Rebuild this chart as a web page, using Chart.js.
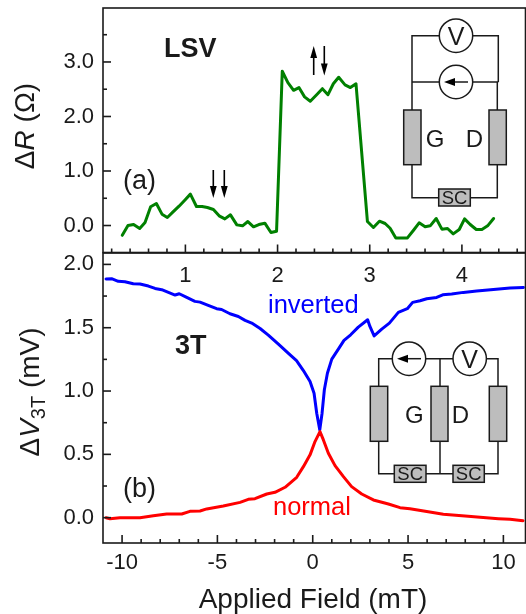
<!DOCTYPE html>
<html>
<head>
<meta charset="utf-8">
<style>
  html, body { margin: 0; padding: 0; background: #fff; }
  canvas { position: absolute; left: 0; top: 0; }
</style>
<script src="https://cdn.jsdelivr.net/npm/chart.js@4"></script>
</head>
<body>
<canvas id="bottom" width="526" height="614"></canvas>
<canvas id="top" width="526" height="614"></canvas>
<script>
const lsvField = [0.315,0.377,0.438,0.504,0.562,0.623,0.685,0.746,0.804,0.866,0.931,0.993,1.054,1.12,1.181,1.239,1.304,1.366,1.428,1.489,1.558,1.62,1.678,1.739,1.797,1.862,1.928,1.989,2.051,2.112,2.174,2.232,2.293,2.355,2.424,2.486,2.547,2.605,2.663,2.732,2.79,2.851,2.975,3.04,3.105,3.167,3.221,3.283,3.348,3.409,3.475,3.536,3.601,3.656,3.721,3.783,3.844,3.906,3.971,4.029,4.09,4.156,4.217,4.279,4.344];
const lsvR = [-0.18,0,0.02,-0.055,0.055,0.343,0.404,0.208,0.147,0.25,0.355,0.465,0.576,0.349,0.349,0.33,0.294,0.178,0.122,0.196,0.012,-0.006,0.073,-0.024,0.018,0.043,-0.129,-0.104,2.83,2.62,2.48,2.53,2.36,2.28,2.4,2.51,2.4,2.6,2.72,2.58,2.53,2.6,0.073,-0.037,0.08,0.037,-0.05,-0.227,-0.227,-0.227,-0.086,0.049,-0.024,-0.006,0.129,-0.067,-0.055,-0.153,-0.073,0.122,0.018,-0.073,-0.073,-0.006,0.129];

const invertedField = [-10.84,-10.55,-10.2,-9.85,-9.41,-9.06,-8.62,-8.27,-7.92,-7.57,-7.22,-7,-6.61,-6.18,-5.91,-5.48,-5.04,-4.78,-4.34,-3.9,-3.55,-3.2,-2.76,-2.33,-1.8,-1.23,-0.85,-0.49,-0.14,0.07,0.21,0.37,0.49,0.61,0.77,1,1.345,1.64,1.99,2.39,2.88,3,3.22,3.62,4.02,4.49,4.96,5.24,5.63,5.98,6.5,6.82,7.29,7.9,8.6,9.48,10.35,11.05];
const invertedV = [1.885,1.887,1.866,1.863,1.847,1.845,1.829,1.81,1.8,1.779,1.758,1.768,1.739,1.708,1.702,1.676,1.65,1.644,1.61,1.589,1.558,1.537,1.494,1.442,1.37,1.291,1.24,1.162,1.075,0.982,0.825,0.693,0.825,1.01,1.141,1.252,1.331,1.4,1.444,1.505,1.563,1.51,1.436,1.489,1.536,1.621,1.65,1.7,1.713,1.729,1.739,1.76,1.766,1.779,1.79,1.802,1.813,1.818];
const normalField = [-10.84,-10.63,-10.11,-9.06,-8.36,-7.66,-6.87,-6.44,-5.91,-5.56,-4.69,-3.81,-3.38,-3.03,-2.41,-1.98,-1.45,-0.84,-0.49,-0.14,0.12,0.38,0.56,0.82,1.17,1.61,2.04,2.57,3.18,3.97,4.58,5.1,5.98,6.85,7.99,8.78,9.74,10.35,11.03];
const normalV = [0,-0.008,0,0,0.016,0.029,0.029,0.05,0.053,0.069,0.092,0.121,0.145,0.15,0.187,0.2,0.24,0.319,0.403,0.496,0.601,0.68,0.614,0.509,0.411,0.324,0.245,0.187,0.14,0.108,0.079,0.071,0.048,0.027,0.013,0.003,-0.008,-0.013,-0.024];

const lsvXTicks = [1, 2, 3, 4];
const lsvXMinor = [0.2,0.4,0.6,0.8,1.2,1.4,1.6,1.8,2.2,2.4,2.6,2.8,3.2,3.4,3.6,3.8,4.2,4.4,4.6];
const lsvYTicks = [0, 1, 2, 3];
const lsvYMinor = [0.5, 1.5, 2.5, 3.5];
const fieldTicks = [-10, -5, 0, 5, 10];
const fieldMinor = [-9,-8,-7,-6,-4,-3,-2,-1,1,2,3,4,6,7,8,9];
const vTicks = [0, 0.5, 1, 1.5, 2];
const vMinor = [0.25, 0.75, 1.25, 1.75];

const INK = '#1a1a1a';
const FONT = '"Liberation Sans", Arial, sans-serif';
const TICK_FONT = { family: FONT, size: 22 };
const GRAY = '#bdbdbd';

function zip(xs, ys) {
  return xs.map((x, i) => ({ x: x, y: ys[i] }));
}

function text(ctx, str, x, y, font, color, align) {
  ctx.font = font + ' ' + FONT;
  ctx.fillStyle = color || INK;
  ctx.textAlign = align || 'left';
  ctx.textBaseline = 'alphabetic';
  ctx.fillText(str, x, y);
}

// mixed italic / subscript label, rotated up the left side
function rotatedLabel(ctx, runs, x, yCenter) {
  ctx.save();
  ctx.translate(x, yCenter);
  ctx.rotate(-Math.PI / 2);
  let total = 0;
  runs.forEach(r => {
    ctx.font = r.font + ' ' + FONT;
    total += ctx.measureText(r.text).width;
  });
  let pos = -total / 2;
  runs.forEach(r => {
    text(ctx, r.text, pos, r.dy || 0, r.font, INK);
    pos += ctx.measureText(r.text).width;
  });
  ctx.restore();
}

function line(ctx, pts) {
  ctx.beginPath();
  pts.forEach((p, i) => i ? ctx.lineTo(p[0], p[1]) : ctx.moveTo(p[0], p[1]));
  ctx.stroke();
}

function fieldArrow(ctx, x, y1, y2) {
  // thin shaft with a solid head at y2
  const dir = y2 > y1 ? 1 : -1;
  ctx.strokeStyle = '#000';
  ctx.fillStyle = '#000';
  ctx.lineWidth = 1.6;
  line(ctx, [[x, y1], [x, y2 - dir * 6]]);
  ctx.beginPath();
  ctx.moveTo(x, y2);
  ctx.lineTo(x - 3.4, y2 - dir * 12);
  ctx.lineTo(x + 3.4, y2 - dir * 12);
  ctx.closePath();
  ctx.fill();
}

function bar(ctx, x1, y1, x2, y2) {
  ctx.fillStyle = GRAY;
  ctx.fillRect(x1, y1, x2 - x1, y2 - y1);
  ctx.strokeRect(x1, y1, x2 - x1, y2 - y1);
}

function scBox(ctx, x1, y1, x2, y2) {
  bar(ctx, x1, y1, x2, y2);
  text(ctx, 'SC', (x1 + x2) / 2, y2 - 2.2, '18.5px', INK, 'center');
}

function meter(ctx, cx, cy, kind) {
  ctx.fillStyle = '#fff';
  ctx.beginPath();
  ctx.arc(cx, cy, 16.7, 0, Math.PI * 2);
  ctx.fill();
  ctx.stroke();
  if (kind === 'V') {
    text(ctx, 'V', cx, cy + 9, '25px', INK, 'center');
  } else {
    line(ctx, [[cx + 12, cy], [cx - 8, cy]]);
    ctx.fillStyle = '#000';
    ctx.beginPath();
    ctx.moveTo(cx - 12, cy);
    ctx.lineTo(cx - 1, cy - 4);
    ctx.lineTo(cx - 1, cy + 4);
    ctx.closePath();
    ctx.fill();
  }
}

function lsvCircuit(ctx) {
  ctx.strokeStyle = INK;
  ctx.lineWidth = 1.5;
  line(ctx, [[412, 110], [412, 35.7], [498.3, 35.7], [498.3, 82]]);
  line(ctx, [[412, 82], [498.3, 82]]);
  line(ctx, [[497.3, 82], [497.3, 110]]);
  line(ctx, [[412, 165], [412, 197.7], [497.3, 197.7], [497.3, 165]]);
  bar(ctx, 403.7, 110, 421, 164.7);
  bar(ctx, 489, 110, 506.3, 164.7);
  scBox(ctx, 438.7, 189, 470.3, 206);
  meter(ctx, 456, 35.7, 'V');
  meter(ctx, 456, 82, 'I');
  text(ctx, 'G', 435, 147, '24px', INK, 'center');
  text(ctx, 'D', 474.3, 147, '24px', INK, 'center');
}

function threeTCircuit(ctx) {
  ctx.strokeStyle = INK;
  ctx.lineWidth = 1.5;
  line(ctx, [[378.7, 386], [378.7, 358.7], [498, 358.7], [498, 386]]);
  line(ctx, [[440, 358.7], [440, 473.7]]);
  line(ctx, [[378.7, 441], [378.7, 473.7], [498, 473.7], [498, 441]]);
  bar(ctx, 370.3, 386.3, 387.7, 441.3);
  bar(ctx, 431, 386.3, 448, 441.3);
  bar(ctx, 489.3, 386.3, 506.7, 441.3);
  scBox(ctx, 394.3, 465.3, 426, 482.3);
  scBox(ctx, 453, 465.3, 484.3, 482.3);
  meter(ctx, 409, 358.7, 'I');
  meter(ctx, 469.7, 358.7, 'V');
  text(ctx, 'G', 414.3, 422.5, '24px', INK, 'center');
  text(ctx, 'D', 460.3, 422.5, '24px', INK, 'center');
}

// box plus inward ticks, major and minor, placed by the chart's scales
function panelFrame(xMajor, xMinor, yMajor, yMinor, extras) {
  return {
    id: 'panelFrame',
    afterDatasetsDraw(chart) {
      const ctx = chart.ctx;
      const a = chart.chartArea;
      const xs = chart.scales.x;
      const ys = chart.scales.y;
      ctx.save();
      ctx.strokeStyle = INK;
      ctx.lineWidth = 1.6;
      ctx.strokeRect(a.left, a.top, a.right - a.left, a.bottom - a.top);
      xMajor.forEach(v => { const p = xs.getPixelForValue(v); line(ctx, [[p, a.bottom], [p, a.bottom - 8]]); });
      xMinor.forEach(v => { const p = xs.getPixelForValue(v); line(ctx, [[p, a.bottom], [p, a.bottom - 4]]); });
      yMajor.forEach(v => { const p = ys.getPixelForValue(v); line(ctx, [[a.left, p], [a.left + 8, p]]); });
      yMinor.forEach(v => { const p = ys.getPixelForValue(v); line(ctx, [[a.left, p], [a.left + 4, p]]); });
      extras(ctx);
      ctx.restore();
    }
  };
}

function makePanel(canvasId, cfg) {
  return new Chart(document.getElementById(canvasId), {
    type: 'line',
    data: { datasets: cfg.datasets },
    options: {
      responsive: false,
      animation: false,
      devicePixelRatio: 1,
      layout: { padding: { left: 0, right: 0.5, top: cfg.top, bottom: cfg.bottom } },
      plugins: { legend: { display: false }, tooltip: { enabled: false } },
      elements: { point: { radius: 0 }, line: { tension: 0, borderWidth: 3, borderJoinStyle: 'round', borderCapStyle: 'round' } },
      scales: {
        x: {
          type: 'linear',
          min: cfg.xMin,
          max: cfg.xMax,
          grid: { display: false, drawTicks: false },
          border: { display: false },
          afterBuildTicks: s => { s.ticks = cfg.xTicks.map(v => ({ value: v })); },
          afterFit: s => { s.height = 36; s.paddingLeft = 0; s.paddingRight = 0; },
          ticks: { autoSkip: false, maxRotation: 0, padding: cfg.xPad, color: INK, font: TICK_FONT, callback: v => String(v) }
        },
        y: {
          type: 'linear',
          min: cfg.yMin,
          max: cfg.yMax,
          grid: { display: false, drawTicks: false },
          border: { display: false },
          afterBuildTicks: s => { s.ticks = cfg.yTicks.map(v => ({ value: v })); },
          afterFit: s => { s.width = 103; s.paddingTop = 0; s.paddingBottom = 0; },
          ticks: { autoSkip: false, padding: 9, color: INK, font: TICK_FONT, callback: v => v.toFixed(1) }
        }
      }
    },
    plugins: [panelFrame(cfg.xTicks, cfg.xMinor, cfg.yTicks, cfg.yMinor, cfg.extras)]
  });
}

makePanel('bottom', {
  top: 253,
  bottom: 35,
  xMin: -11,
  xMax: 11.16,
  yMin: -0.2,
  yMax: 2.09,
  xTicks: fieldTicks,
  xMinor: fieldMinor,
  yTicks: vTicks,
  yMinor: vMinor,
  xPad: 7,
  datasets: [
    { data: zip(normalField, normalV), borderColor: '#ff0000' },
    { data: zip(invertedField, invertedV), borderColor: '#0000ff' }
  ],
  extras: ctx => {
    text(ctx, '3T', 175, 354, 'bold 27px');
    text(ctx, '(b)', 123, 497, '27px');
    text(ctx, 'inverted', 268, 313, '25.5px', '#0000ff');
    text(ctx, 'normal', 273, 515, '25.5px', '#ff0000');
    threeTCircuit(ctx);
    rotatedLabel(ctx, [
      { text: '\u0394', font: '28px' },
      { text: 'V', font: 'italic 28px' },
      { text: '3T', font: '20px', dy: 6 },
      { text: ' (mV)', font: '28px' }
    ], 39, 392);
    text(ctx, 'Applied Field (mT)', 313, 608, '28px', INK, 'center');
  }
});

makePanel('top', {
  top: 8,
  bottom: 614 - 252.5 - 36,
  xMin: 0.106,
  xMax: 4.69,
  yMin: -0.495,
  yMax: 3.99,
  xTicks: lsvXTicks,
  xMinor: lsvXMinor,
  yTicks: lsvYTicks,
  yMinor: lsvYMinor,
  xPad: 10,
  datasets: [
    { data: zip(lsvField, lsvR), borderColor: '#008000' }
  ],
  extras: ctx => {
    text(ctx, 'LSV', 164, 57, 'bold 27px');
    text(ctx, '(a)', 123, 189, '27px');
    fieldArrow(ctx, 213.3, 170, 198);
    fieldArrow(ctx, 224.3, 170, 198);
    fieldArrow(ctx, 313.7, 75, 46);
    fieldArrow(ctx, 324.3, 46, 75.5);
    lsvCircuit(ctx);
    rotatedLabel(ctx, [
      { text: '\u0394', font: '28px' },
      { text: 'R', font: 'italic 28px' },
      { text: ' (\u03a9)', font: '28px' }
    ], 34, 126);
  }
});
</script>
</body>
</html>
